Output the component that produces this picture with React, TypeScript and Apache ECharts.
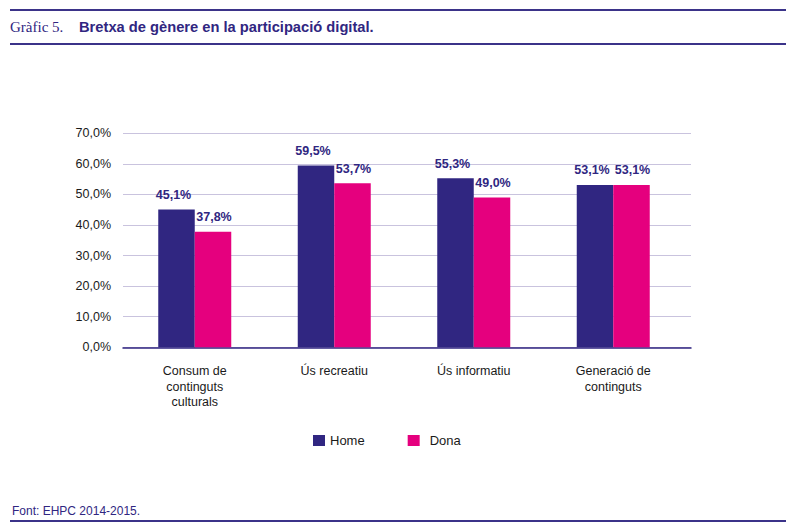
import React, { useEffect, useRef } from "react";
import * as echarts from "echarts";

const categories = ["Consum de\ncontinguts\nculturals", "Ús recreatiu", "Ús informatiu", "Generació de\ncontinguts"];
const homeValues = [45.1, 59.5, 55.3, 53.1];
const donaValues = [37.8, 53.7, 49.0, 53.1];
const seriesNames = ["Home", "Dona"];
const titleLabel = "Gràfic 5.";
const titleText = "Bretxa de gènere en la participació digital.";
const sourceText = "Font: EHPC 2014-2015.";

const PURPLE = "#302681";
const PINK = "#e5007e";
const FONT = "'Liberation Sans', Arial, sans-serif";

const fmt = (v: number) => v.toFixed(1).replace(".", ",") + "%";

export default function App() {
  const ref = useRef<HTMLDivElement>(null);
  useEffect(() => {
    document.body.style.margin = "0";
    const chart = echarts.init(ref.current!, null, { renderer: "svg" });
    const top = 133.3;
    const bottom = 531 - 347.3;
    const labelCfg = (dx: number) => ({
      show: true,
      position: "top",
      distance: 8,
      offset: [dx, 0],
      fontSize: 12.5,
      fontWeight: "bold",
      color: PURPLE,
      fontFamily: FONT,
      formatter: (p: any) => fmt(p.value),
    });
    chart.setOption({
      animation: false,
      backgroundColor: "#ffffff",
      textStyle: { fontFamily: FONT },
      grid: [
        { left: 123, right: 109, top, bottom },
        { left: 125, right: 117, top, bottom },
      ],
      xAxis: [
        {
          type: "category",
          gridIndex: 0,
          data: categories,
          axisLine: { show: true, lineStyle: { color: PURPLE, width: 1.5 } },
          axisTick: { show: false },
          axisLabel: { show: false },
        },
        {
          type: "category",
          gridIndex: 1,
          data: categories,
          axisLine: { show: false },
          axisTick: { show: false },
          axisLabel: {
            margin: 16,
            fontSize: 12.5,
            lineHeight: 15.5,
            color: "#1a1a1a",
            fontFamily: FONT,
            interval: 0,
          },
        },
      ],
      yAxis: [
        {
          type: "value",
          gridIndex: 0,
          min: 0,
          max: 70,
          interval: 10,
          axisLine: { show: false },
          axisTick: { show: false },
          splitLine: { lineStyle: { color: "#c9c3de", width: 1.2 } },
          axisLabel: {
            margin: 12,
            fontSize: 12.5,
            color: "#1a1a1a",
            fontFamily: FONT,
            formatter: (v: number) => fmt(v),
          },
        },
        {
          type: "value",
          gridIndex: 1,
          min: 0,
          max: 70,
          interval: 10,
          show: false,
        },
      ],
      legend: {
        data: [
          { name: seriesNames[0] },
          { name: seriesNames[1], textStyle: { padding: [0, 0, 0, 5] } },
        ],
        left: 313,
        top: 434,
        padding: 0,
        itemWidth: 12,
        itemHeight: 11,
        itemGap: 43,
        icon: "rect",
        textStyle: { fontSize: 13, color: "#1a1a1a", fontFamily: FONT },
      },
      series: [
        {
          name: seriesNames[0],
          type: "bar",
          xAxisIndex: 1,
          yAxisIndex: 1,
          data: homeValues,
          barWidth: 36.5,
          barGap: "0%",
          itemStyle: { color: PURPLE },
          label: labelCfg(-3),
        },
        {
          name: seriesNames[1],
          type: "bar",
          xAxisIndex: 1,
          yAxisIndex: 1,
          data: donaValues,
          barWidth: 36.5,
          barGap: "0%",
          itemStyle: { color: PINK },
          label: labelCfg(1),
        },
      ],
      graphic: [
        { type: "line", shape: { x1: 10, y1: 10, x2: 786, y2: 10 }, style: { stroke: "#3b3389", lineWidth: 2 } },
        { type: "line", shape: { x1: 10, y1: 44, x2: 786, y2: 44 }, style: { stroke: "#3b3389", lineWidth: 2 } },
        { type: "line", shape: { x1: 10, y1: 521, x2: 786, y2: 521 }, style: { stroke: "#3b3389", lineWidth: 2 } },
        {
          type: "text",
          x: 10,
          y: 27,
          style: {
            text: titleLabel,
            fill: PURPLE,
            font: "15px 'Liberation Serif', 'DejaVu Serif', serif",
            verticalAlign: "middle",
          },
        },
        {
          type: "text",
          x: 79,
          y: 27,
          style: {
            text: titleText,
            fill: PURPLE,
            font: "bold 14.7px " + FONT,
            verticalAlign: "middle",
          },
        },
        {
          type: "text",
          x: 12,
          y: 511,
          style: {
            text: sourceText,
            fill: PURPLE,
            font: "12px " + FONT,
            verticalAlign: "middle",
          },
        },
      ],
    });
    return () => chart.dispose();
  }, []);
  return <div ref={ref} style={{ width: 800, height: 531 }} />;
}
